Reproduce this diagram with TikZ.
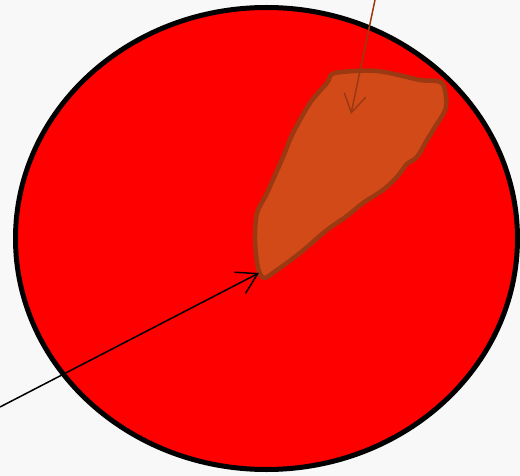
\documentclass[tikz,border=0pt]{standalone}
\usetikzlibrary{arrows.meta}

\begin{document}
\begin{tikzpicture}[x=1pt, y=-1pt]
    % Define colours
    \definecolor{backColour}{HTML}{F8F8F8}
    \definecolor{cellColour}{HTML}{FF0000}
    \definecolor{blobColour}{HTML}{D24A18}
    \definecolor{blobBorder}{HTML}{9B3A12}

    % Define canvas size
    \def\canvasW{520}
    \def\canvasH{476}

    % Draw background
    \fill[backColour] (0,0) rectangle (\canvasW,\canvasH);
    \useasboundingbox (0,0) rectangle (\canvasW,\canvasH);

    % Draw the cell
    \filldraw[fill=cellColour, draw=black, line width=5pt] (266.5,238.5) ellipse [x radius=251, y radius=231];

    % Draw the inclusion
    \filldraw[fill=blobColour, draw=blobBorder, line width=4.5pt, line join=round]
        plot[smooth cycle, tension=0.5] coordinates {
            (335,73) (377,71) (420,80) (442,83) (446,107) (435,127)
            (427,140) (417,157) (407,164) (397,177) (383,190) (363,203)
            (347,216) (327,230) (300,253) (277,270) (264,278) (258,268)
            (255,240) (257,213) (267,193) (283,157) (293,133) (310,103)
            (327,83)};

    % Define coordinates for the pointers
    \coordinate (topStart) at (375,0);
    \coordinate (topEnd) at (351,114);
    \coordinate (leftStart) at (0,407);
    \coordinate (leftEnd) at (259,273);

    % Draw the pointers
    \draw[blobBorder, line width=1.5pt, -{Straight Barb[length=18pt, width=22pt]}] (topStart) -- (topEnd);
    \draw[black, line width=1.5pt, -{Straight Barb[length=20pt, width=24pt]}] (leftStart) -- (leftEnd);

\end{tikzpicture}
\end{document}
